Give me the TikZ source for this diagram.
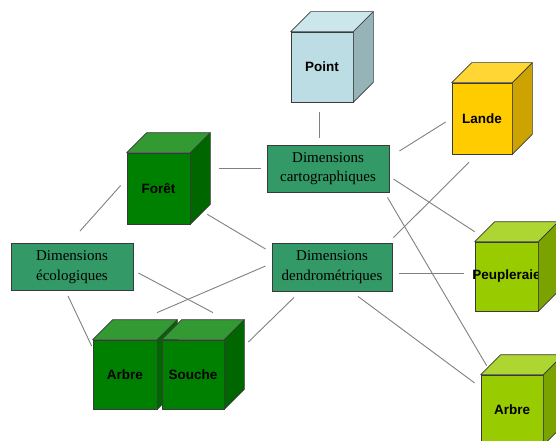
\documentclass[tikz,border=0pt]{standalone}
\usepackage{fontspec}
\setmainfont{Liberation Serif}
\newfontfamily\cubefont{Liberation Sans}
\usetikzlibrary{calc}

% colour sets for the cubes: front, top, side
\definecolor{dgfront}{HTML}{008000}
\definecolor{dgtop}{HTML}{339933}
\definecolor{dgside}{HTML}{006600}
\definecolor{lgfront}{HTML}{99CC00}
\definecolor{lgtop}{HTML}{ADD633}
\definecolor{lgside}{HTML}{7AA300}
\definecolor{yefront}{HTML}{FFCC00}
\definecolor{yetop}{HTML}{FFD633}
\definecolor{yeside}{HTML}{CCA300}
\definecolor{blfront}{HTML}{BBDDE3}
\definecolor{bltop}{HTML}{CCE7EC}
\definecolor{blside}{HTML}{96B4B8}
\definecolor{boxfill}{HTML}{339966}
\definecolor{edge}{HTML}{3A3A3A}
\definecolor{wire}{HTML}{808080}

\tikzset{
  dimbox/.style={draw=edge, line width=0.9pt, fill=boxfill, minimum width=122pt,
    minimum height=47pt, inner sep=0pt, align=center,
    font=\fontsize{15}{19.5}\selectfont},
  cubeface/.style={draw=edge, line width=0.7pt, minimum width=62pt, minimum height=70pt,
    inner sep=0pt},
  cubelabel/.style={font=\cubefont\bfseries\fontsize{13.5}{16}\selectfont, inner sep=0pt},
  faceline/.style={draw=edge, line width=0.7pt, line join=round},
  link/.style={draw=wire, line width=0.9pt},
}

% #1 name, #2 centre, #3 colour set, #4 label, #5 extra node options
\newcommand\drawcube[5]{%
  \node[cubeface, fill=#3front, #5, label={[cubelabel]center:#4}] (#1) at (#2) {};
  \path[faceline, fill=#3top] (#1.north west) -- ++(20,-20)
    -- ($(#1.north east)+(20,-20)$) -- (#1.north east) -- cycle;
  \path[faceline, fill=#3side] (#1.north east) -- ++(20,-20)
    -- ($(#1.south east)+(20,-20)$) -- (#1.south east) -- cycle;
}

\begin{document}
\begin{tikzpicture}[x=1pt, y=-1pt]
  \useasboundingbox (0,0) rectangle (556,441);
  \clip (0,0) rectangle (556,441);

  % dimension boxes
  \node[dimbox] (cart) at (328,168.5) {Dimensions\\cartographiques};
  \node[dimbox] (eco) at (72,267) {Dimensions\\écologiques};
  \node[dimbox, minimum width=120pt, minimum height=48pt] (dendro) at (332,267) {Dimensions\\dendrométriques};

  % cubes
  \drawcube{point}{322,67}{bl}{Point}{}
  \drawcube{lande}{482,118.5}{ye}{Lande}{minimum width=60pt, minimum height=71pt}
  \drawcube{foret}{158.5,188.5}{dg}{Forêt}{minimum width=63pt, minimum height=71pt}
  \drawcube{arbreA}{125,374.5}{dg}{Arbre}{minimum width=64pt, minimum height=69pt}
  \drawcube{souche}{193,374.5}{dg}{Souche}{minimum height=69pt}
  \drawcube{peup}{506.5,276.5}{lg}{Peupleraie}{minimum width=63pt, minimum height=69pt}
  \drawcube{arbreB}{512,410}{lg}{Arbre}{}

  % connectors
  \draw[link] ([shift={(-3,10)}]point.south) -- ([shift={(-9,-7)}]cart.north);
  \draw[link] ([shift={(29,-20.5)}]foret.east) -- ([shift={(-6,-0.5)}]cart.west);
  \draw[link] ([shift={(-6,-3)}]foret.west) -- ([shift={(8,-12)}]eco.north);
  \draw[link] ([shift={(17,-10)}]foret.south east) -- ([shift={(-6,-18)}]dendro.west);
  \draw[link] ([shift={(5,6)}]eco.east) -- ([shift={(20,-27)}]souche.north);
  \draw[link] ([shift={(-6,-1)}]dendro.west) -- ([shift={(32,-27)}]arbreA.north);
  \draw[link] ([shift={(-4,5)}]eco.south) -- ([shift={(-1,-28.5)}]arbreA.west);
  \draw[link] ([shift={(24,-32.5)}]souche.east) -- ([shift={(-38,6)}]dendro.south);
  \draw[link] ([shift={(10,-17.5)}]cart.east) -- ([shift={(-6,3.5)}]lande.west);
  \draw[link] ([shift={(1,-5)}]dendro.north east) -- ([shift={(-13,8)}]lande.south);
  \draw[link] ([shift={(4,10.5)}]cart.east) -- ([shift={(0,-10)}]peup.north west);
  \draw[link] ([shift={(-2,5)}]cart.south east) -- ([shift={(6,-9)}]arbreB.north west);
  \draw[link] ([shift={(7,6)}]dendro.east) -- ([shift={(-11,-3.5)}]peup.west);
  \draw[link] ([shift={(26,5)}]dendro.south) -- ([shift={(-6,-27)}]arbreB.west);
\end{tikzpicture}
\end{document}
